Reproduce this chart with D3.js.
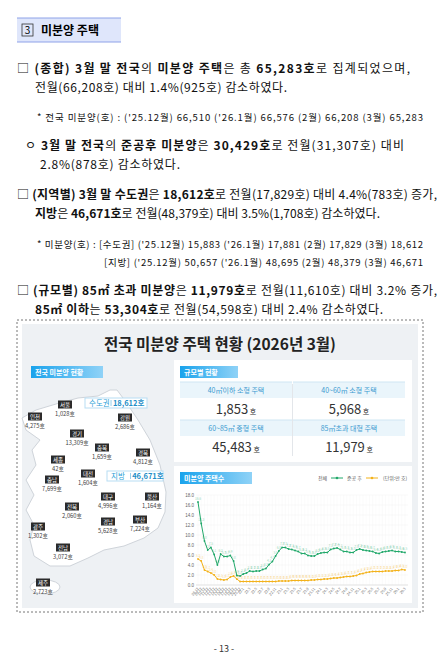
<!DOCTYPE html>
<html><head><meta charset="utf-8">
<script src="https://cdn.jsdelivr.net/npm/d3@7"></script>
<style>body{margin:0;background:#fff}svg{display:block;font-family:"Noto Sans CJK KR","Noto Sans",sans-serif}</style>
</head><body><div id="wrapper"></div>
<script>
// Chart data (unit: 만 호)
const periodLabels = ["08.12","09.12","10.12","11.12","12.12","13.12","14.12","15.12","16.12","17.12","18.12","19.12","20.12","21.12",
  "22.1","22.2","22.3","22.4","22.5","22.6","22.7","22.8","22.9","22.10","22.11","22.12",
  "23.1","23.2","23.3","23.4","23.5","23.6","23.7","23.8","23.9","23.10","23.11","23.12",
  "24.1","24.2","24.3","24.4","24.5","24.6","24.7","24.8","24.9","24.10","24.11","24.12",
  "25.1","25.2","25.3","25.4","25.5","25.6","25.7","25.8","25.9","25.10","25.11","25.12",
  "26.1","26.2","26.3"]
const totalValues = [16.6,12.3,8.8,7.0,7.5,6.1,4.0,6.2,5.7,5.7,5.9,4.8,1.9,1.8,
  2.2,2.4,2.8,2.7,2.8,2.8,3.1,3.3,4.1,4.7,5.8,6.8,
  7.5,7.5,7.2,7.1,6.9,6.7,6.3,6.3,5.9,5.8,5.8,6.2,
  6.4,6.5,6.5,7.1,7.3,7.4,7.1,6.7,6.7,6.5,6.5,7.0,
  7.2,7.0,6.9,6.8,6.7,6.4,6.3,6.6,6.7,6.8,6.9,6.7,
  6.7,6.6,6.5]
const completedValues = [5.2,4.8,3.0,2.7,2.4,2.0,1.2,1.1,1.0,1.1,1.6,1.8,1.2,0.7,
  0.7,0.7,0.7,0.7,0.7,0.7,0.7,0.7,0.7,0.7,0.7,0.8,
  0.8,0.8,0.8,0.9,0.9,0.9,0.9,0.9,0.9,1.0,1.0,1.1,
  1.1,1.2,1.2,1.3,1.4,1.4,1.5,1.6,1.7,1.7,1.8,1.9,
  2.2,2.3,2.5,2.6,2.7,2.7,2.7,2.7,2.8,2.8,2.8,2.9,
  2.9,3.1,3.0]
const yTicks = [0,2,4,6,8,10,12,14,16,18]

// Size breakdown
const sizeNames = ["40㎡이하 소형 주택","40~60㎡ 소형 주택","60~85㎡ 중형 주택","85㎡초과 대형 주택"]
const sizeValues = ["1,853","5,968","45,483","11,979"]

// Regions: name, value, label position
const regionNames = ["서울","인천","강원","경기","충북","경북","세종","대전","충남","대구","울산","전북","광주","경남","부산","전남","제주"]
const regionValues = ["1,028호","4,275호","2,686호","13,309호","1,659호","4,812호","42호","1,604호","7,699호","4,996호","1,164호","2,060호","1,302호","5,628호","7,224호","3,072호","2,723호"]
const regionPos = [[65,405],[35,417],[125,418],[77,434],[102,448],[143,453],[58,460],[88,474],[52,480],[108,497],[152,497],[72,507],[38,527],[108,522],[140,520],[63,548],[43,583]]

// Text lines: segments [text, bold]
const lines = [
  {x:17,y:73,w:393,s:12,seg:[["□ ",0],["(종합) 3월 말 전국",1],["의 ",0],["미분양 주택",1],["은 총 ",0],["65,283호",1],["로 집계되었으며,",0]]},
  {x:35,y:92,w:252,s:12,seg:[["전월(66,208호) 대비 1.4%(925호) 감소하였다.",0]]},
  {x:37,y:121,w:386,s:9.5,seg:[["* 전국 미분양(호) : ('25.12월) 66,510 ('26.1월) 66,576 (2월) 66,208 (3월) 65,283",0]]},
  {x:25,y:150,w:379,s:12,seg:[["ㅇ ",0],["3월 말 전국",1],["의 ",0],["준공후 미분양",1],["은 ",0],["30,429호",1],["로 전월(31,307호) 대비",0]]},
  {x:40,y:169,w:140,s:12,seg:[["2.8%(878호) 감소하였다.",0]]},
  {x:17,y:199,w:420,s:12,seg:[["□ ",0],["(지역별) 3월 말 수도권",1],["은 ",0],["18,612호",1],["로 전월(17,829호) 대비 4.4%(783호) 증가,",0]]},
  {x:35,y:218,w:345,s:12,seg:[["지방",1],["은 ",0],["46,671호",1],["로 전월(48,379호) 대비 3.5%(1,708호) 감소하였다.",0]]},
  {x:37,y:248,w:386,s:9.5,seg:[["* 미분양(호) : [수도권] ('25.12월) 15,883 ('26.1월) 17,881 (2월) 17,829 (3월) 18,612",0]]},
  {x:104,y:266,w:319,s:9.5,seg:[["[지방] ('25.12월) 50,657 ('26.1월) 48,695 (2월) 48,379 (3월) 46,671",0]]},
  {x:17,y:295,w:420,s:12,seg:[["□ ",0],["(규모별) 85㎡ 초과 미분양",1],["은 ",0],["11,979호",1],["로 전월(11,610호) 대비 3.2% 증가,",0]]},
  {x:35,y:314,w:348,s:12,seg:[["85㎡ 이하",1],["는 ",0],["53,304호",1],["로 전월(54,598호) 대비 2.4% 감소하였다.",0]]}
]

const svg = d3.select("#wrapper").append("svg").attr("width",447).attr("height",672)

// Section header
svg.append("rect").attr("x",17).attr("y",18).attr("width",104).attr("height",24).attr("fill","#dfe6fb")
svg.append("line").attr("x1",17).attr("x2",121).attr("y1",18).attr("y2",18).attr("stroke","#8ea2e8")
svg.append("line").attr("x1",17).attr("x2",121).attr("y1",42).attr("y2",42).attr("stroke","#8ea2e8")
svg.append("rect").attr("x",22).attr("y",24).attr("width",11).attr("height",12).attr("fill","none").attr("stroke","#333").attr("stroke-width",0.8)
svg.append("text").attr("x",27.5).attr("y",34).attr("text-anchor","middle").attr("font-size",10).text("3")
svg.append("text").attr("x",41).attr("y",35).attr("font-size",12).attr("font-weight","bold").text("미분양 주택")

lines.forEach(l => {
  const t = svg.append("text").attr("x",l.x).attr("y",l.y).attr("font-size",l.s).attr("fill","#111")
    .attr("textLength",l.w).attr("lengthAdjust","spacing")
  l.seg.forEach(([txt,b]) => t.append("tspan").attr("font-weight",b?"bold":"normal").text(txt))
})

// Infographic frame
svg.append("rect").attr("x",17).attr("y",320).attr("width",406).attr("height",292).attr("fill","#fff").attr("stroke","#777").attr("stroke-dasharray","2,2")
svg.append("rect").attr("x",22).attr("y",324).attr("width",396).attr("height",284).attr("fill","#eef1f4")
svg.append("text").attr("x",220).attr("y",350).attr("text-anchor","middle").attr("font-size",15.5).attr("font-weight","bold").attr("fill","#222").text("전국 미분양 주택 현황  (2026년 3월)")

const defs = svg.append("defs")
const grad = defs.append("linearGradient").attr("id","tag")
grad.append("stop").attr("offset","0%").attr("stop-color","#1aa3ec")
grad.append("stop").attr("offset","100%").attr("stop-color","#8fd2f7")
function tag(x,y,w,txt){
  svg.append("rect").attr("x",x).attr("y",y).attr("width",w).attr("height",12).attr("fill","url(#tag)")
  svg.append("text").attr("x",x+4).attr("y",y+9).attr("font-size",7).attr("font-weight","bold").attr("fill","#fff").text(txt)
}
tag(31,366,72,"전국 미분양 현황")

// Map
const outline = [[117,390],[126,402],[138,420],[150,440],[160,465],[166,492],[165,512],[158,528],[144,538],[124,546],[104,550],[88,558],[70,566],[50,566],[34,556],[30,540],[34,525],[26,510],[34,495],[26,480],[36,465],[32,450],[40,440],[26,430],[22,418],[36,410],[56,404],[78,398],[98,396],[110,390]]
svg.append("path").attr("d",d3.line().curve(d3.curveLinearClosed)(outline)).attr("fill","#fff").attr("stroke","#cfd4da")
svg.append("ellipse").attr("cx",45).attr("cy",587).attr("rx",15).attr("ry",7).attr("fill","#fff").attr("stroke","#cfd4da")
regionNames.forEach((n,i) => {
  const [x,y] = regionPos[i]
  svg.append("rect").attr("x",x-7).attr("y",y-4.5).attr("width",14).attr("height",8).attr("fill","#2b2b2b")
  svg.append("text").attr("x",x).attr("y",y+2).attr("text-anchor","middle").attr("font-size",5.5).attr("fill","#fff").text(n)
  svg.append("text").attr("x",x).attr("y",y+11).attr("text-anchor","middle").attr("font-size",5.8).attr("fill","#444").text(regionValues[i])
})
function areaBox(x,y,w,name,val){
  svg.append("rect").attr("x",x).attr("y",y).attr("width",w).attr("height",10).attr("fill","#fff").attr("stroke","#b8ddf3")
  svg.append("text").attr("x",x+4).attr("y",y+8).attr("font-size",7.5).attr("fill","#2a9fd8").text(name)
  svg.append("line").attr("x1",x+w*0.42).attr("x2",x+w*0.42).attr("y1",y+2).attr("y2",y+8).attr("stroke","#2a9fd8").attr("stroke-width",0.5)
  svg.append("text").attr("x",x+w*0.45).attr("y",y+8).attr("font-size",7.5).attr("font-weight","bold").attr("fill","#1f8fc8").text(val)
}
areaBox(85,398,62,"수도권","18,612호")
areaBox(107,471,56,"지방","46,671호")

// Size panel
svg.append("rect").attr("x",174).attr("y",360).attr("width",238).attr("height",102).attr("fill","#fff")
tag(180,366,58,"규모별 현황")
const cellX = [180,293], cellY = [382,420]
sizeNames.forEach((n,i) => {
  const cx = cellX[i%2], cy = cellY[Math.floor(i/2)]
  svg.append("rect").attr("x",cx).attr("y",cy).attr("width",112).attr("height",16).attr("fill","#eaf5fb")
  svg.append("line").attr("x1",cx).attr("x2",cx+112).attr("y1",cy).attr("y2",cy).attr("stroke","#cfe6f3")
  svg.append("text").attr("x",cx+56).attr("y",cy+11).attr("text-anchor","middle").attr("font-size",7).attr("fill","#3a9ad0").text(n)
  const v = svg.append("text").attr("x",cx+56).attr("y",cy+32).attr("text-anchor","middle").attr("fill","#333")
  v.append("tspan").attr("font-size",13).text(sizeValues[i])
  v.append("tspan").attr("font-size",7).text(" 호")
})
svg.append("line").attr("x1",292.5).attr("x2",292.5).attr("y1",384).attr("y2",456).attr("stroke","#e3e6ea")

// Line chart panel
svg.append("rect").attr("x",174).attr("y",466).attr("width",238).attr("height",137).attr("fill","#fff")
tag(180,472,72,"미분양 주택수")
const lg = svg.append("g").attr("font-size",5).attr("fill","#555")
lg.append("text").attr("x",318).attr("y",480).text("전체")
lg.append("line").attr("x1",331).attr("x2",343).attr("y1",478).attr("y2",478).attr("stroke","#21a86a")
lg.append("circle").attr("cx",337).attr("cy",478).attr("r",1.3).attr("fill","#21a86a")
lg.append("text").attr("x",347).attr("y",480).text("준공 후")
lg.append("line").attr("x1",366).attr("x2",378).attr("y1",478).attr("y2",478).attr("stroke","#f3b21b")
lg.append("circle").attr("cx",372).attr("cy",478).attr("r",1.3).attr("fill","#f3b21b")
lg.append("text").attr("x",383).attr("y",480).text("(단위:만 호)")

const x = d3.scalePoint().domain(periodLabels).range([198,405])
const y = d3.scaleLinear().domain([0,18]).range([585,495])
const g = svg.append("g")
g.selectAll(".grid").data(yTicks).join("line").attr("x1",196).attr("x2",408)
  .attr("y1",d=>y(d)).attr("y2",d=>y(d)).attr("stroke","#f0f0f0").attr("stroke-width",0.5)
g.selectAll(".vgrid").data(periodLabels).join("line").attr("x1",d=>x(d)).attr("x2",d=>x(d))
  .attr("y1",495).attr("y2",585).attr("stroke","#f6f6f6").attr("stroke-width",0.4)
const yAxis = g.append("g").attr("transform","translate(196,0)")
  .call(d3.axisLeft(y).tickValues(yTicks).tickFormat(d3.format(".1f")).tickSize(0).tickPadding(2))
yAxis.select(".domain").remove()
yAxis.selectAll("text").attr("font-size",4.5).attr("fill","#666")
g.append("line").attr("x1",196).attr("x2",408).attr("y1",585).attr("y2",585).attr("stroke","#ccc").attr("stroke-width",0.5)
g.selectAll(".xl").data(periodLabels.filter((d,i)=>i<14 || i%2===0)).join("text")
  .attr("transform",d=>`translate(${x(d)+1},589) rotate(-50)`).attr("text-anchor","end")
  .attr("font-size",3.6).attr("fill","#666").text(d=>d)

function series(vals,color){
  const data = periodLabels.map((p,i)=>({p,v:vals[i]}))
  g.append("path").datum(data).attr("fill","none").attr("stroke",color).attr("stroke-width",1)
    .attr("d",d3.line().x(d=>x(d.p)).y(d=>y(d.v)))
  g.append("g").selectAll("circle").data(data).join("circle").attr("cx",d=>x(d.p)).attr("cy",d=>y(d.v)).attr("r",0.9).attr("fill",color)
  g.append("g").selectAll("text").data(data).join("text").attr("x",d=>x(d.p)).attr("y",d=>y(d.v)-2.5)
    .attr("text-anchor","middle").attr("font-size",3.2).attr("fill",color).attr("opacity",0.45).text(d=>d.v.toFixed(1))
}
series(totalValues,"#21a86a")
series(completedValues,"#f3b21b")

svg.append("text").attr("x",224).attr("y",652).attr("text-anchor","middle").attr("font-size",9).attr("fill","#333").text("- 13 -")
</script></body></html>
